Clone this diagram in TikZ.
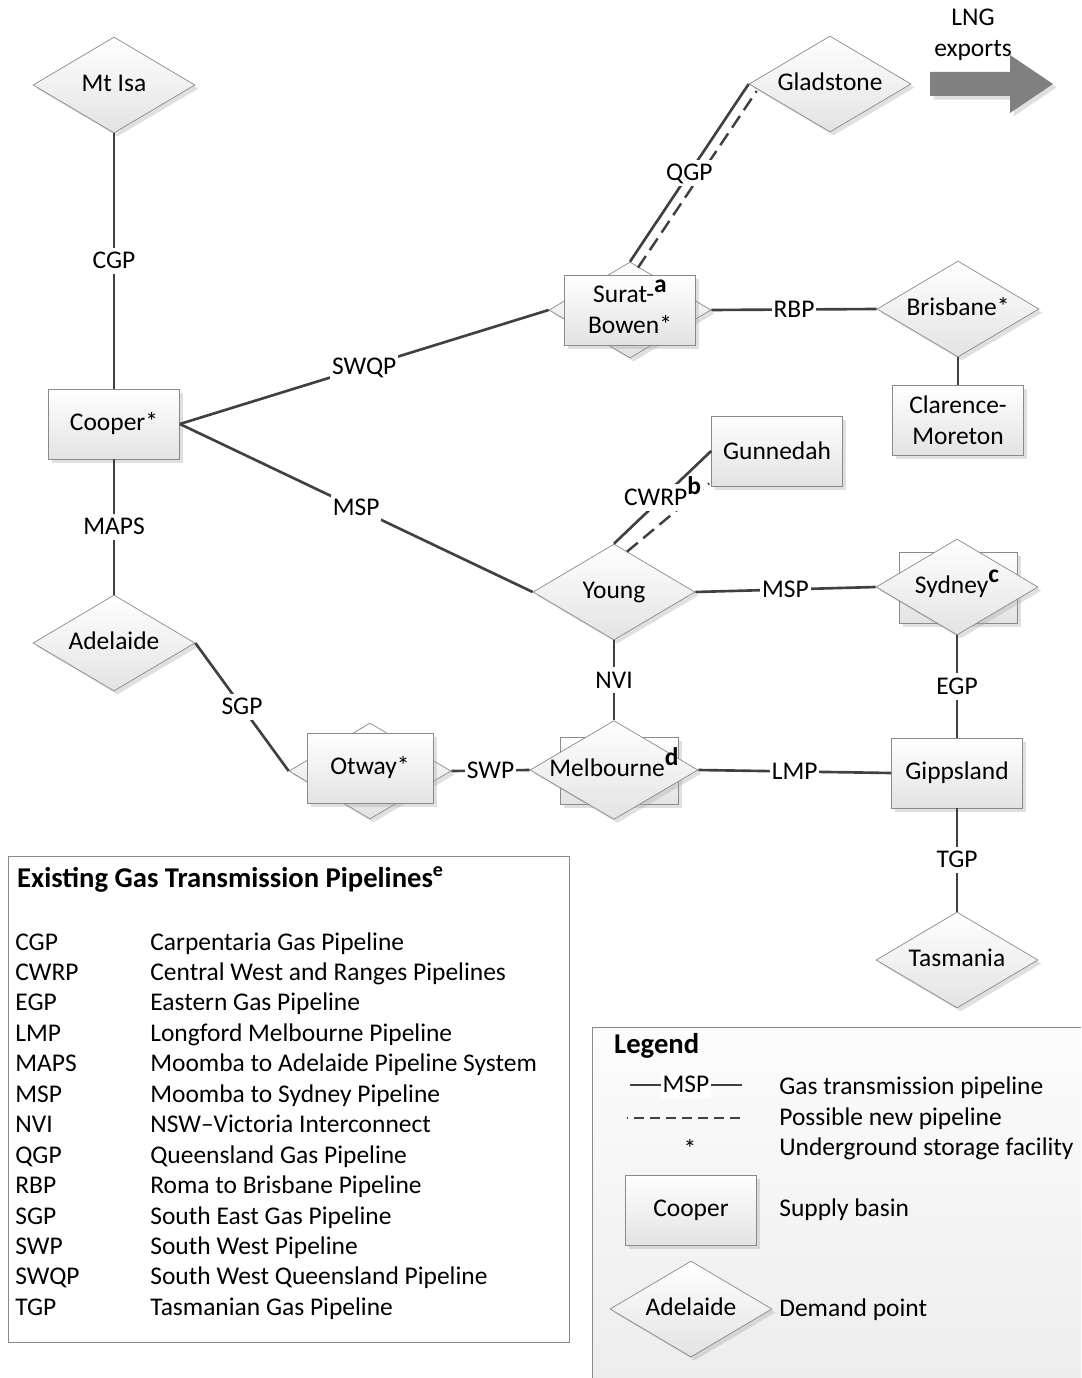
\documentclass[tikz,border=0pt]{standalone}
\usepackage{fontspec}
\setmainfont{Carlito}
\usetikzlibrary{shapes.geometric, shadows, calc}
\definecolor{pipegray}{HTML}{404040}
\definecolor{rimgray}{HTML}{8A8A8A}
\newcommand{\pfont}{\fontsize{14.5}{17.4}\selectfont}
\newcommand{\hfont}{\fontsize{16.3}{19.5}\selectfont\bfseries}
\newcommand{\supl}[1]{\smash{\raisebox{0.42em}{\textbf{#1}}}}

\begin{document}
\begin{tikzpicture}[
    x=0.02cm, y=-0.02cm,
    font=\pfont,
    shade/.style={top color=white, bottom color=black!11,
        drop shadow={shadow xshift=2pt, shadow yshift=-2pt, fill=black!35, opacity=0.35}},
    basin/.style={draw=rimgray, rectangle, minimum width=2.62cm, minimum height=1.4cm, align=center, shade},
    demand/.style={draw=rimgray, diamond, aspect=1.7, inner sep=0, minimum width=3.24cm, minimum height=1.92cm,
        text height=10pt, text depth=3pt, shade},
    pipe/.style={draw=pipegray, line width=1.5pt},
    newpipe/.style={draw=pipegray, line width=1.4pt, dash pattern=on 8pt off 4pt},
    plabel/.style={fill=white, inner sep=1pt, text height=11pt, text depth=2pt}
]
\useasboundingbox (0,0) rectangle (1081,1378);

% demand points
\node[demand] (mtisa) at (114,85)  {Mt Isa};
\node[demand] (adel)  at (114,643) {Adelaide};
\node[demand] (glad)  at (830,84)  {Gladstone};
\node[demand] (bris)  at (958,309) {Brisbane*};
\node[demand] (young) at (614,592) {Young};
\node[demand] (tas)   at (957,960) {Tasmania};
% supply basins
\node[basin] (cooper) at (114,424) {Cooper*};
\node[basin] (clar)   at (958,420) {Clarence-\\Moreton};
\node[basin] (gunn)   at (777,451) {Gunnedah};
\node[basin] (gipps)  at (957,773) {Gippsland};
% basins that are also demand points
\node[demand] (suratd) at (630,310) {};
\node[basin]  (surat)  at (630,310) {Surat-\supl{a}\\Bowen*};
\node[demand] (otwayd) at (370,771) {};
\node[basin, minimum width=2.52cm] (otway) at (370,768) {Otway*};
\node[basin, minimum width=2.36cm, minimum height=1.42cm] (sydb) at (958,588) {};
\node[demand] (syd) at (957,587) {Sydney\supl{c}};
\node[basin, minimum width=2.36cm, minimum height=1.34cm] (melbb) at (619,771) {};
\node[demand] (melb) at (614,770) {Melbourne\supl{d}};

% LNG exports
\fill[black!50, drop shadow={shadow xshift=2pt, shadow yshift=-2pt, fill=black!35, opacity=0.35}]
  (930,72) -- (1010,72) -- (1010,55) -- (1053,84) -- (1010,113) -- (1010,96) -- (930,96) -- cycle;
\node[align=center] (lng) at (973,35) {LNG\\exports};

% possible new pipelines
\draw[newpipe] ($(suratd.north)+(8,6)$) -- ($(glad.west)+(8,7)$);
\draw[newpipe] ($(young.north)+(13,8)$) -- ($(gunn.south west)+(-2,-3)$);

% existing pipelines
\draw[pipe] (mtisa) -- node[plabel] {CGP} (cooper);
\draw[pipe] (cooper) -- node[plabel] {MAPS} (adel);
\draw[pipe] (cooper.east) -- node[plabel] {SWQP} (suratd.west);
\draw[pipe] (cooper.east) -- node[plabel] {MSP} (young.west);
\draw[pipe] (adel.east) -- node[plabel] {SGP} (otwayd.west);
\draw[pipe] (otwayd.east) -- node[plabel] {SWP} (melb.west);
\draw[pipe] (young.south) -- node[plabel] {NVI} (melb.north);
\draw[pipe] (young.east) -- node[plabel] {MSP} (syd.west);
\draw[pipe] (melb.east) -- node[plabel] {LMP} (gipps.west);
\draw[pipe] (syd.south) -- node[plabel] {EGP} (gipps.north);
\draw[pipe] (gipps.south) -- node[plabel] {TGP} (tas.north);
\draw[pipe] (suratd.east) -- node[plabel] {RBP} (bris.west);
\draw[pipe] (bris.south) -- (clar.north);
\draw[pipe] (suratd.north) -- node[plabel] {QGP} (glad.west);
\draw[pipe] (young.north) -- node[plabel] {CWRP\supl{b}} (gunn.west);

% list of pipelines
\draw[rimgray] (8,856) rectangle (569,1342);
\node[anchor=west, font=\hfont] (ltitle) at (11,879) {Existing Gas Transmission Pipelines\textsuperscript{e}};
\foreach \i/\ab/\nm in {0/CGP/Carpentaria Gas Pipeline, 1/CWRP/Central West and Ranges Pipelines,
    2/EGP/Eastern Gas Pipeline, 3/LMP/Longford Melbourne Pipeline, 4/MAPS/Moomba to Adelaide Pipeline System,
    5/MSP/Moomba to Sydney Pipeline, 6/NVI/NSW--Victoria Interconnect, 7/QGP/Queensland Gas Pipeline,
    8/RBP/Roma to Brisbane Pipeline, 9/SGP/South East Gas Pipeline, 10/SWP/South West Pipeline,
    11/SWQP/South West Queensland Pipeline, 12/TGP/Tasmanian Gas Pipeline} {
  \node[anchor=base west, inner sep=0] (ab\i) at (15,950+30.45*\i) {\ab};
  \node[anchor=base west, inner sep=0] (nm\i) at (150,950+30.45*\i) {\nm};
}

% legend
\fill[top color=black!1, bottom color=black!7] (592,1027) rectangle (1081,1378);
\draw[rimgray] (1081,1027) -- (592,1027) -- (592,1378);
\node[anchor=west, font=\hfont] (gtitle) at (608,1046) {Legend};
\coordinate (la) at (630,1085);
\coordinate (lb) at (742,1085);
\draw[pipe] (la) -- node[plabel] {MSP} (lb);
\coordinate (lc) at (627,1118);
\coordinate (ld) at (746,1118);
\draw[newpipe, dash pattern=on 5.7pt off 3.4pt, dash phase=5pt] (lc) -- (ld);
\node (star) at (690,1148) {*};
\node[basin] (lbasin) at (691,1210) {Cooper};
\node[demand] (ldemand) at (691,1309) {Adelaide};
\node[anchor=base west, inner sep=0] (t1) at (779,1094) {Gas transmission pipeline};
\node[anchor=base west, inner sep=0] (t2) at (779,1125) {Possible new pipeline};
\node[anchor=base west, inner sep=0] (t3) at (779,1155) {Underground storage facility};
\node[anchor=base west, inner sep=0] (t4) at (779,1216) {Supply basin};
\node[anchor=base west, inner sep=0] (t5) at (779,1316) {Demand point};
\end{tikzpicture}
\end{document}
